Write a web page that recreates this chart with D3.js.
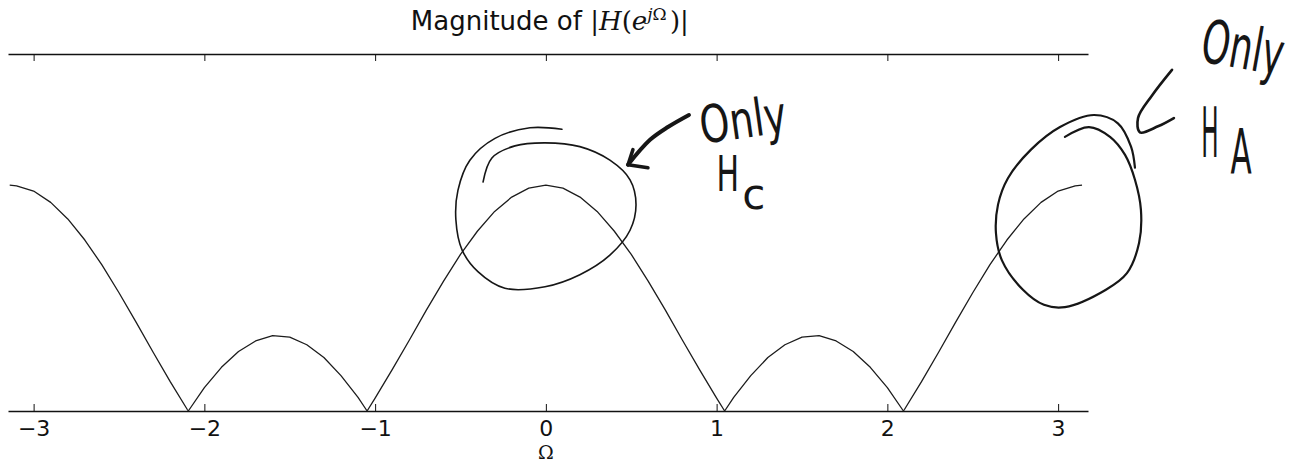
<!DOCTYPE html>
<html>
<head>
<meta charset="utf-8">
<script src="https://cdn.jsdelivr.net/npm/d3@7"></script>
<style>
  html, body { margin: 0; padding: 0; background: #fff; }
  svg { display: block; }
</style>
</head>
<body>
<script>
// Digital frequency samples Ω (rad/sample)
const omega = [
  -3.14, -3.1, -3.0, -2.9, -2.8, -2.7, -2.6, -2.5, -2.4, -2.3, -2.2, -2.1, -2.094,
  -2.0, -1.9, -1.8, -1.7, -1.6, -1.5, -1.4, -1.3, -1.2, -1.1, -1.047,
  -1.0, -0.9, -0.8, -0.7, -0.6, -0.5, -0.4, -0.3, -0.2, -0.1, 0,
  0.1, 0.2, 0.3, 0.4, 0.5, 0.6, 0.7, 0.8, 0.9, 1.0,
  1.047, 1.1, 1.2, 1.3, 1.4, 1.5, 1.6, 1.7, 1.8, 1.9, 2.0,
  2.094, 2.1, 2.2, 2.3, 2.4, 2.5, 2.6, 2.7, 2.8, 2.9, 3.0, 3.1, 3.14
];

// |H(e^{jΩ})| at each sample
const magnitude = [
  3.00, 2.99, 2.92, 2.77, 2.55, 2.27, 1.94, 1.57, 1.18, 0.78, 0.39, 0.02, 0,
  0.31, 0.58, 0.79, 0.93, 1.00, 0.98, 0.88, 0.71, 0.47, 0.18, 0,
  0.17, 0.55, 0.94, 1.34, 1.72, 2.08, 2.39, 2.65, 2.84, 2.96, 3.00,
  2.96, 2.84, 2.65, 2.39, 2.08, 1.72, 1.34, 0.94, 0.55, 0.17,
  0, 0.18, 0.47, 0.71, 0.88, 0.98, 1.00, 0.93, 0.79, 0.58, 0.31,
  0, 0.02, 0.39, 0.78, 1.18, 1.57, 1.94, 2.27, 2.55, 2.77, 2.92, 2.99, 3.00
];

const xTickValues = [-3, -2, -1, 0, 1, 2, 3];
const xTickLabels = ["\u22123", "\u22122", "\u22121", "0", "1", "2", "3"];
const omegaLimits = [-3.15, 3.175];
const magnitudeLimits = [0, 4.74];
const xAxisLabel = "\u03A9";

// Pen notes written over the plot, in (Ω, magnitude) units
const loopAroundCentre = [[-0.368,3.04],[-0.316,3.36],[-0.181,3.52],[-0.005,3.56],[0.199,3.51],[0.375,3.33],[0.493,3.07],[0.528,2.74],[0.493,2.40],[0.375,2.07],[0.199,1.81],[-0.005,1.65],[-0.240,1.63],[-0.398,1.85],[-0.491,2.14],[-0.527,2.54],[-0.515,2.93],[-0.445,3.33],[-0.298,3.62],[-0.093,3.76],[0.094,3.74]];
const loopAroundEdge = [[3.040,3.64],[3.181,3.77],[3.304,3.64],[3.392,3.40],[3.450,3.07],[3.485,2.67],[3.474,2.23],[3.403,1.83],[3.280,1.61],[3.040,1.38],[2.917,1.41],[2.794,1.61],[2.671,2.00],[2.636,2.36],[2.648,2.74],[2.706,3.09],[2.841,3.47],[3.011,3.77],[3.210,3.93],[3.350,3.82],[3.427,3.51],[3.450,3.23]];
const arrowCentreShaft = [[0.838,3.93],[0.715,3.77],[0.610,3.60],[0.481,3.27]];
const arrowCentreHead = [[0.510,3.47],[0.481,3.27],[0.598,3.23]];
const arrowEdge = [[3.667,4.53],[3.550,4.19],[3.468,3.89],[3.479,3.70],[3.585,3.78],[3.678,3.89]];
const noteWords = [
  { text: "Only", at: [1.154, 3.86], size: 52, rotate: -8, stretch: 0.73 },
  { text: "H", at: [1.066, 3.15], size: 50, rotate: 0, stretch: 0.6 },
  { text: "c", at: [1.218, 2.88], size: 42, rotate: 0, stretch: 1.0 },
  { text: "Only", at: [4.083, 4.82], size: 60, rotate: 10, stretch: 0.6 },
  { text: "H", at: [3.889, 3.69], size: 70, rotate: 0, stretch: 0.33 },
  { text: "A", at: [4.071, 3.43], size: 62, rotate: 0, stretch: 0.5 }
];

const W = 1302, H = 467;
const margin = { top: 54, right: 214, bottom: 56, left: 8 };

const svg = d3.select("body").append("svg")
  .attr("width", W).attr("height", H)
  .attr("viewBox", `0 0 ${W} ${H}`);

svg.append("rect").attr("width", W).attr("height", H).attr("fill", "#fff");

const x = d3.scaleLinear().domain(omegaLimits).range([margin.left, W - margin.right]);
const y = d3.scaleLinear().domain(magnitudeLimits).range([H - margin.bottom, margin.top]);

const axisColor = "#111";

// bottom axis: inward ticks, labels below
const gx = svg.append("g")
  .attr("transform", `translate(0,${y(magnitudeLimits[0])})`)
  .call(d3.axisBottom(x)
    .tickValues(xTickValues)
    .tickFormat((d, i) => xTickLabels[i])
    .tickSize(-7)
    .tickSizeOuter(0)
    .tickPadding(9));
gx.select(".domain").attr("stroke", axisColor).attr("stroke-width", 1.6);
gx.selectAll(".tick line").attr("stroke", axisColor).attr("stroke-width", 1);
gx.selectAll(".tick text")
  .attr("fill", "#111")
  .style("font-family", "'DejaVu Sans', sans-serif")
  .style("font-size", "22px");

// top spine with matching inward ticks
const gt = svg.append("g")
  .attr("transform", `translate(0,${y(magnitudeLimits[1])})`)
  .call(d3.axisTop(x)
    .tickValues(xTickValues)
    .tickFormat("")
    .tickSize(-7)
    .tickSizeOuter(0));
gt.select(".domain").attr("stroke", axisColor).attr("stroke-width", 1.6);
gt.selectAll(".tick line").attr("stroke", axisColor).attr("stroke-width", 1);

// x-axis label
svg.append("text")
  .attr("x", x(0))
  .attr("y", 459)
  .attr("text-anchor", "middle")
  .style("font-family", "'DejaVu Serif', serif")
  .style("font-size", "19px")
  .attr("fill", "#111")
  .text(xAxisLabel);

// title: Magnitude of |H(e^{jΩ})|
const title = svg.append("text")
  .attr("x", x(0) + 4)
  .attr("y", 30)
  .attr("text-anchor", "middle")
  .attr("fill", "#111")
  .style("font-size", "26px");
title.append("tspan").style("font-family", "'DejaVu Sans', sans-serif").text("Magnitude of ");
title.append("tspan").style("font-family", "'DejaVu Serif', serif").text("|");
title.append("tspan").style("font-family", "'DejaVu Serif', serif").style("font-style", "italic").text("H");
title.append("tspan").style("font-family", "'DejaVu Serif', serif").text("(");
title.append("tspan").style("font-family", "'DejaVu Serif', serif").style("font-style", "italic").text("e");
title.append("tspan").attr("dy", -10).style("font-size", "17px").style("font-family", "'DejaVu Serif', serif").style("font-style", "italic").text("j");
title.append("tspan").style("font-size", "17px").style("font-family", "'DejaVu Serif', serif").text("\u03A9\u2009");
title.append("tspan").attr("dy", 10).style("font-family", "'DejaVu Serif', serif").text(")|");

// frequency response
const pts = omega.map((w, i) => [w, magnitude[i]]);
svg.append("path")
  .datum(pts)
  .attr("fill", "none")
  .attr("stroke", "#1c1c1c")
  .attr("stroke-width", 1.3)
  .attr("stroke-linejoin", "round")
  .attr("d", d3.line().x(d => x(d[0])).y(d => y(d[1])));

// handwritten notes
const ink = "#161616";
const pen = d3.line().x(d => x(d[0])).y(d => y(d[1])).curve(d3.curveCatmullRom.alpha(0.5));
const notes = svg.append("g").attr("fill", "none").attr("stroke", ink)
  .attr("stroke-linecap", "round").attr("stroke-linejoin", "round");

notes.append("path").datum(loopAroundCentre).attr("stroke-width", 1.6).attr("d", pen);
notes.append("path").datum(loopAroundEdge).attr("stroke-width", 2.2).attr("d", pen);
notes.append("path").datum(arrowCentreShaft).attr("stroke-width", 4).attr("d", pen);
notes.append("path").datum(arrowCentreHead).attr("stroke-width", 3.5)
  .attr("d", d3.line().x(d => x(d[0])).y(d => y(d[1])));
notes.append("path").datum(arrowEdge).attr("stroke-width", 2.6).attr("d", pen);

svg.append("g").selectAll("text")
  .data(noteWords)
  .join("text")
  .attr("transform", d => `translate(${x(d.at[0])},${y(d.at[1])}) rotate(${d.rotate}) scale(${d.stretch},1)`)
  .attr("text-anchor", "middle")
  .attr("dominant-baseline", "central")
  .attr("fill", ink)
  .style("font-family", "'DejaVu Sans', sans-serif")
  .style("font-size", d => d.size + "px")
  .text(d => d.text);
</script>
</body>
</html>
